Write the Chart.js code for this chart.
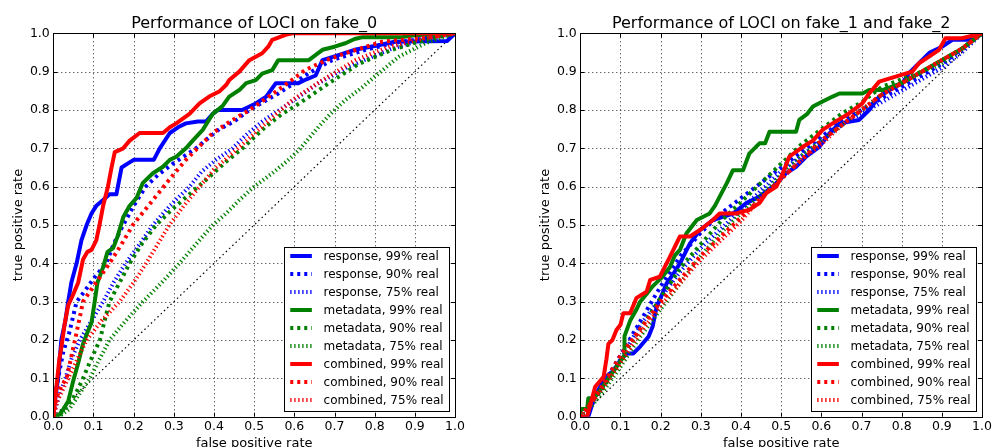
<!DOCTYPE html>
<html>
<head>
<meta charset="utf-8">
<script src="https://cdn.jsdelivr.net/npm/chart.js@4.4.0/dist/chart.umd.min.js"></script>
<style>
  html, body { margin: 0; padding: 0; background: #fff; }
  body { width: 995px; height: 447px; position: relative; overflow: hidden; }
  .panel { position: absolute; top: 0; width: 468px; height: 447px; }
</style>
</head>
<body>
<div class="panel" style="left:0"><canvas id="chartA"></canvas></div>
<div class="panel" style="left:527px"><canvas id="chartB"></canvas></div>
<script>
// ---- data (fpr, tpr) ----
const TITLES = ['Performance of LOCI on fake_0', 'Performance of LOCI on fake_1 and fake_2'];
const X_LABEL = 'false positive rate';
const Y_LABEL = 'true positive rate';
const TICKS = [0, 0.1, 0.2, 0.3, 0.4, 0.5, 0.6, 0.7, 0.8, 0.9, 1.0];
const SERIES_LABELS = [
  'response, 99% real', 'response, 90% real', 'response, 75% real',
  'metadata, 99% real', 'metadata, 90% real', 'metadata, 75% real',
  'combined, 99% real', 'combined, 90% real', 'combined, 75% real'
];
const DIAGONAL = [[0, 0], [1, 1]];

// fake_0
const A_resp99 = [[0,0],[0.005,0.05],[0.012,0.1],[0.02,0.2],[0.03,0.25],[0.037,0.3],[0.045,0.35],[0.058,0.4],[0.07,0.46],[0.083,0.5],[0.095,0.53],[0.107,0.55],[0.124,0.565],[0.14,0.58],[0.157,0.58],[0.17,0.65],[0.185,0.66],[0.2,0.67],[0.25,0.67],[0.265,0.7],[0.29,0.74],[0.314,0.757],[0.33,0.765],[0.36,0.77],[0.38,0.77],[0.397,0.79],[0.41,0.8],[0.47,0.8],[0.504,0.817],[0.53,0.835],[0.554,0.87],[0.61,0.87],[0.63,0.88],[0.653,0.89],[0.67,0.93],[0.7,0.94],[0.75,0.957],[0.8,0.967],[0.85,0.978],[0.98,0.98],[1,1]];
const A_resp90 = [[0,0],[0.005,0.06],[0.012,0.1],[0.025,0.17],[0.04,0.22],[0.058,0.3],[0.08,0.33],[0.1,0.36],[0.132,0.4],[0.15,0.45],[0.174,0.5],[0.2,0.55],[0.23,0.6],[0.26,0.63],[0.298,0.66],[0.355,0.7],[0.413,0.75],[0.45,0.77],[0.488,0.8],[0.56,0.843],[0.6,0.87],[0.636,0.896],[0.694,0.93],[0.777,0.957],[0.85,0.975],[0.9,0.983],[1,1]];
const A_resp75 = [[0,0],[0.01,0.04],[0.03,0.1],[0.045,0.15],[0.066,0.2],[0.095,0.25],[0.124,0.3],[0.15,0.35],[0.18,0.4],[0.215,0.45],[0.248,0.5],[0.29,0.55],[0.339,0.6],[0.37,0.64],[0.405,0.67],[0.446,0.7],[0.48,0.735],[0.52,0.77],[0.587,0.817],[0.66,0.87],[0.735,0.913],[0.835,0.957],[0.917,0.983],[1,1]];
const A_meta99 = [[0,0],[0.015,0.005],[0.025,0.02],[0.037,0.04],[0.05,0.095],[0.062,0.14],[0.074,0.19],[0.085,0.22],[0.095,0.245],[0.103,0.3],[0.11,0.35],[0.124,0.39],[0.135,0.43],[0.149,0.44],[0.16,0.47],[0.174,0.52],[0.19,0.55],[0.207,0.57],[0.223,0.61],[0.248,0.635],[0.273,0.652],[0.29,0.67],[0.306,0.678],[0.33,0.7],[0.347,0.72],[0.372,0.748],[0.397,0.79],[0.421,0.81],[0.438,0.835],[0.463,0.852],[0.48,0.87],[0.504,0.878],[0.52,0.895],[0.545,0.904],[0.56,0.93],[0.636,0.93],[0.655,0.945],[0.67,0.957],[0.7,0.965],[0.727,0.974],[0.75,0.985],[0.77,0.99],[0.868,0.99],[0.9,0.995],[1,1]];
const A_meta90 = [[0,0],[0.02,0.01],[0.045,0.04],[0.06,0.07],[0.074,0.1],[0.09,0.14],[0.116,0.2],[0.13,0.26],[0.14,0.3],[0.165,0.35],[0.19,0.4],[0.22,0.45],[0.256,0.5],[0.29,0.535],[0.322,0.565],[0.355,0.595],[0.388,0.625],[0.43,0.665],[0.471,0.7],[0.529,0.757],[0.57,0.79],[0.612,0.817],[0.686,0.87],[0.76,0.92],[0.843,0.957],[0.909,0.978],[1,1]];
const A_meta75 = [[0,0],[0.02,0.005],[0.04,0.02],[0.065,0.06],[0.091,0.1],[0.115,0.15],[0.14,0.2],[0.18,0.25],[0.223,0.3],[0.27,0.35],[0.314,0.4],[0.355,0.45],[0.397,0.5],[0.43,0.53],[0.463,0.565],[0.5,0.6],[0.545,0.635],[0.58,0.665],[0.612,0.696],[0.661,0.757],[0.69,0.79],[0.727,0.826],[0.77,0.86],[0.8,0.887],[0.86,0.939],[0.926,0.974],[1,1]];
const A_comb99 = [[0,0],[0.005,0.05],[0.01,0.1],[0.015,0.15],[0.02,0.18],[0.028,0.24],[0.037,0.29],[0.05,0.32],[0.062,0.35],[0.068,0.38],[0.074,0.41],[0.085,0.43],[0.095,0.435],[0.107,0.46],[0.115,0.5],[0.124,0.55],[0.136,0.6],[0.145,0.65],[0.153,0.69],[0.174,0.7],[0.19,0.72],[0.215,0.74],[0.273,0.74],[0.29,0.755],[0.306,0.765],[0.339,0.79],[0.364,0.817],[0.388,0.835],[0.413,0.848],[0.43,0.865],[0.438,0.878],[0.463,0.9],[0.488,0.93],[0.52,0.948],[0.535,0.965],[0.545,0.983],[0.578,0.996],[0.595,1],[1,1]];
const A_comb90 = [[0,0],[0.008,0.05],[0.02,0.08],[0.033,0.1],[0.054,0.2],[0.074,0.3],[0.1,0.34],[0.14,0.4],[0.17,0.45],[0.198,0.5],[0.248,0.565],[0.29,0.62],[0.33,0.67],[0.397,0.74],[0.44,0.77],[0.488,0.8],[0.56,0.852],[0.628,0.905],[0.68,0.93],[0.727,0.948],[0.818,0.978],[0.94,0.99],[1,1]];
const A_comb75 = [[0,0],[0.01,0.04],[0.037,0.1],[0.06,0.15],[0.083,0.2],[0.12,0.25],[0.165,0.3],[0.2,0.35],[0.231,0.4],[0.26,0.45],[0.289,0.5],[0.325,0.55],[0.364,0.6],[0.4,0.645],[0.446,0.687],[0.52,0.757],[0.595,0.826],[0.67,0.878],[0.752,0.93],[0.835,0.965],[0.926,0.987],[1,1]];

// fake_1 and fake_2
const B_resp99 = [[0,0],[0.02,0],[0.033,0.043],[0.045,0.07],[0.058,0.095],[0.07,0.11],[0.083,0.12],[0.1,0.148],[0.116,0.165],[0.132,0.165],[0.149,0.183],[0.17,0.209],[0.18,0.235],[0.19,0.287],[0.2,0.31],[0.215,0.348],[0.23,0.37],[0.248,0.4],[0.273,0.452],[0.298,0.487],[0.33,0.513],[0.38,0.53],[0.413,0.557],[0.446,0.574],[0.479,0.6],[0.512,0.635],[0.537,0.652],[0.562,0.678],[0.595,0.704],[0.62,0.739],[0.645,0.765],[0.694,0.774],[0.719,0.8],[0.744,0.835],[0.769,0.852],[0.802,0.87],[0.818,0.896],[0.843,0.922],[0.87,0.95],[0.9,0.965],[0.926,0.983],[0.967,0.983],[1,1]];
const B_resp90 = [[0,0],[0.03,0.04],[0.06,0.09],[0.1,0.16],[0.15,0.25],[0.2,0.34],[0.25,0.42],[0.3,0.48],[0.35,0.53],[0.4,0.57],[0.45,0.61],[0.5,0.65],[0.55,0.69],[0.6,0.73],[0.65,0.77],[0.7,0.8],[0.75,0.83],[0.8,0.86],[0.85,0.89],[0.9,0.92],[0.95,0.96],[1,1]];
const B_resp75 = [[0,0],[0.03,0.04],[0.06,0.08],[0.1,0.15],[0.15,0.24],[0.2,0.31],[0.25,0.38],[0.3,0.44],[0.35,0.49],[0.4,0.54],[0.45,0.59],[0.5,0.64],[0.55,0.68],[0.6,0.72],[0.65,0.76],[0.7,0.79],[0.75,0.82],[0.8,0.85],[0.85,0.88],[0.9,0.91],[0.95,0.95],[1,1]];
const B_meta99 = [[0,0],[0,0.02],[0.017,0.02],[0.02,0.048],[0.033,0.048],[0.05,0.07],[0.07,0.1],[0.09,0.13],[0.11,0.16],[0.11,0.21],[0.124,0.25],[0.14,0.28],[0.149,0.3],[0.165,0.32],[0.18,0.34],[0.2,0.36],[0.223,0.39],[0.235,0.42],[0.248,0.435],[0.264,0.478],[0.29,0.513],[0.322,0.53],[0.335,0.55],[0.347,0.574],[0.365,0.61],[0.38,0.643],[0.405,0.643],[0.421,0.687],[0.446,0.713],[0.46,0.713],[0.471,0.743],[0.537,0.743],[0.545,0.774],[0.565,0.79],[0.579,0.809],[0.603,0.822],[0.628,0.835],[0.645,0.843],[0.702,0.843],[0.719,0.852],[0.752,0.852],[0.8,0.87],[0.85,0.9],[0.9,0.93],[0.95,0.96],[1,1]];
const B_meta90 = [[0,0],[0.03,0.04],[0.06,0.08],[0.1,0.15],[0.15,0.23],[0.2,0.31],[0.25,0.39],[0.3,0.45],[0.35,0.51],[0.4,0.56],[0.45,0.61],[0.5,0.66],[0.55,0.71],[0.6,0.75],[0.65,0.79],[0.7,0.82],[0.75,0.86],[0.8,0.88],[0.85,0.9],[0.9,0.93],[0.95,0.96],[1,1]];
const B_meta75 = [[0,0],[0.03,0.03],[0.06,0.07],[0.1,0.13],[0.15,0.21],[0.2,0.28],[0.25,0.35],[0.3,0.42],[0.35,0.48],[0.4,0.53],[0.45,0.58],[0.5,0.63],[0.55,0.68],[0.6,0.72],[0.65,0.76],[0.7,0.8],[0.75,0.84],[0.8,0.87],[0.85,0.9],[0.9,0.92],[0.95,0.96],[1,1]];
const B_comb99 = [[0,0],[0.017,0],[0.037,0.078],[0.058,0.104],[0.065,0.15],[0.07,0.19],[0.08,0.2],[0.09,0.226],[0.1,0.24],[0.107,0.27],[0.124,0.27],[0.14,0.31],[0.165,0.326],[0.174,0.357],[0.198,0.365],[0.21,0.39],[0.223,0.417],[0.248,0.47],[0.273,0.47],[0.298,0.487],[0.33,0.513],[0.347,0.53],[0.388,0.53],[0.421,0.54],[0.446,0.557],[0.463,0.583],[0.488,0.6],[0.504,0.635],[0.52,0.678],[0.554,0.704],[0.579,0.72],[0.603,0.748],[0.628,0.765],[0.669,0.791],[0.702,0.817],[0.719,0.843],[0.744,0.874],[0.785,0.887],[0.826,0.9],[0.843,0.922],[0.868,0.939],[0.893,0.957],[0.909,0.987],[0.95,0.987],[1,1]];
const B_comb90 = [[0,0],[0.03,0.04],[0.06,0.09],[0.1,0.16],[0.15,0.23],[0.2,0.3],[0.25,0.36],[0.3,0.42],[0.35,0.47],[0.4,0.52],[0.45,0.57],[0.5,0.62],[0.55,0.67],[0.6,0.72],[0.65,0.76],[0.7,0.8],[0.75,0.84],[0.8,0.87],[0.85,0.9],[0.9,0.93],[0.95,0.96],[1,1]];
const B_comb75 = [[0,0],[0.03,0.04],[0.06,0.08],[0.1,0.14],[0.15,0.22],[0.2,0.29],[0.25,0.35],[0.3,0.41],[0.35,0.46],[0.4,0.51],[0.45,0.57],[0.5,0.62],[0.55,0.67],[0.6,0.71],[0.65,0.76],[0.7,0.8],[0.75,0.84],[0.8,0.87],[0.85,0.9],[0.9,0.93],[0.95,0.96],[1,1]];

// ---- styles ----
const FONT = "'DejaVu Sans', sans-serif";
const COLORS = ['#0000ff', '#008000', '#ff0000'];
const STYLES = [
  { w: 4, dash: [] },         // 99%  solid
  { w: 4, dash: [3, 4] },     // 90%  dashed
  { w: 4, dash: [1.3, 2.7] }  // 75%  dotted
];

function makeDatasets(curves) {
  const ds = curves.map((pts, i) => {
    const st = STYLES[i % 3];
    return {
      label: SERIES_LABELS[i],
      data: pts.map(([x, y]) => ({ x, y })),
      showLine: true,
      borderColor: COLORS[Math.floor(i / 3)],
      borderWidth: st.w,
      borderDash: st.dash,
      borderCapStyle: 'butt',
      borderJoinStyle: 'round',
      pointRadius: 0,
      pointHoverRadius: 0,
      tension: 0,
      clip: 0,
      order: curves.length - i
    };
  });
  ds.push({
    label: '',
    noLegend: true,
    data: DIAGONAL.map(([x, y]) => ({ x, y })),
    showLine: true,
    borderColor: '#000',
    borderWidth: 1.2,
    borderDash: [1.5, 3],
    pointRadius: 0,
    clip: 0,
    order: 100
  });
  return ds;
}

// grid, frame, inward ticks, legend box, titles
const decorPlugin = {
  id: 'decor',
  beforeDatasetsDraw(chart) {
    const { ctx, chartArea: a, scales: { x, y } } = chart;
    ctx.save();
    ctx.strokeStyle = 'rgba(0,0,0,0.85)';
    ctx.lineWidth = 1;
    ctx.setLineDash([1, 3]);
    TICKS.slice(1, -1).forEach(v => {
      const px = Math.round(x.getPixelForValue(v)) + 0.5;
      ctx.beginPath(); ctx.moveTo(px, a.top); ctx.lineTo(px, a.bottom); ctx.stroke();
      const py = Math.round(y.getPixelForValue(v)) + 0.5;
      ctx.beginPath(); ctx.moveTo(a.left, py); ctx.lineTo(a.right, py); ctx.stroke();
    });
    ctx.restore();
  },
  afterDraw(chart) {
    const { ctx, chartArea: a, scales: { x, y } } = chart;
    const opts = chart.options.plugins.decor;
    ctx.save();

    // legend
    const items = chart.data.datasets.filter(d => !d.noLegend);
    const w = 165, h = 164;
    const bx = a.right - 6.5 - w, by = a.bottom - 5.7 - h;
    ctx.fillStyle = '#fff';
    ctx.fillRect(bx, by, w, h);
    ctx.strokeStyle = '#000';
    ctx.lineWidth = 1;
    ctx.setLineDash([]);
    ctx.strokeRect(Math.round(bx) + 0.5, Math.round(by) + 0.5, w, h);
    ctx.font = '12px ' + FONT;
    ctx.textAlign = 'left';
    ctx.textBaseline = 'middle';
    items.forEach((d, i) => {
      const cy = by + 9 + i * 18;
      ctx.strokeStyle = d.borderColor;
      ctx.lineWidth = d.borderWidth;
      ctx.setLineDash(d.borderDash || []);
      ctx.lineCap = 'butt';
      ctx.beginPath(); ctx.moveTo(bx + 6.7, cy); ctx.lineTo(bx + 28.3, cy); ctx.stroke();
      ctx.fillStyle = '#000';
      ctx.fillText(d.label, bx + 40, cy + 0.5);
    });

    // frame
    ctx.setLineDash([]);
    ctx.strokeStyle = '#000';
    ctx.lineWidth = 1;
    ctx.strokeRect(Math.round(a.left) + 0.5, Math.round(a.top) + 0.5,
      Math.round(a.right) - Math.round(a.left), Math.round(a.bottom) - Math.round(a.top));

    // inward ticks on all four sides
    TICKS.forEach(v => {
      const px = Math.round(x.getPixelForValue(v)) + 0.5;
      const py = Math.round(y.getPixelForValue(v)) + 0.5;
      ctx.beginPath();
      ctx.moveTo(px, a.bottom); ctx.lineTo(px, a.bottom - 4);
      ctx.moveTo(px, a.top); ctx.lineTo(px, a.top + 4);
      ctx.moveTo(a.left, py); ctx.lineTo(a.left + 4, py);
      ctx.moveTo(a.right, py); ctx.lineTo(a.right - 4, py);
      ctx.stroke();
    });

    // titles
    ctx.fillStyle = '#000';
    ctx.textAlign = 'center';
    ctx.textBaseline = 'alphabetic';
    ctx.font = '16px ' + FONT;
    ctx.fillText(opts.title, (a.left + a.right) / 2, 27.5);
    ctx.font = '13px ' + FONT;
    ctx.fillText(X_LABEL, (a.left + a.right) / 2, 446.5);
    ctx.translate(21.5, (a.top + a.bottom) / 2);
    ctx.rotate(-Math.PI / 2);
    ctx.fillText(Y_LABEL, 0, 0);
    ctx.restore();
  }
};

function makeChart(id, title, curves) {
  const axis = (fit) => ({
    type: 'linear',
    min: 0,
    max: 1,
    afterBuildTicks: s => { s.ticks = TICKS.map(v => ({ value: v })); },
    afterFit: fit,
    grid: { display: false, drawTicks: false },
    border: { display: false },
    ticks: {
      autoSkip: false,
      maxRotation: 0,
      color: '#000',
      font: { family: FONT, size: 12.5 },
      callback: v => Number(v).toFixed(1)
    }
  });
  const xAxis = axis(s => { s.height = 30.3; });
  xAxis.ticks.padding = 3;
  const yAxis = axis(s => { s.width = 53.3; });
  yAxis.ticks.padding = 3.5;

  return new Chart(document.getElementById(id), {
    type: 'scatter',
    data: { datasets: makeDatasets(curves) },
    options: {
      responsive: true,
      maintainAspectRatio: false,
      animation: false,
      events: [],
      layout: { padding: { left: 0, right: 11.3, top: 33.3, bottom: 0 } },
      scales: { x: xAxis, y: yAxis },
      plugins: {
        legend: { display: false },
        title: { display: false },
        tooltip: { enabled: false },
        decor: { title }
      }
    },
    plugins: [decorPlugin]
  });
}

makeChart('chartA', TITLES[0],
  [A_resp99, A_resp90, A_resp75, A_meta99, A_meta90, A_meta75, A_comb99, A_comb90, A_comb75]);
makeChart('chartB', TITLES[1],
  [B_resp99, B_resp90, B_resp75, B_meta99, B_meta90, B_meta75, B_comb99, B_comb90, B_comb75]);
</script>
</body>
</html>
